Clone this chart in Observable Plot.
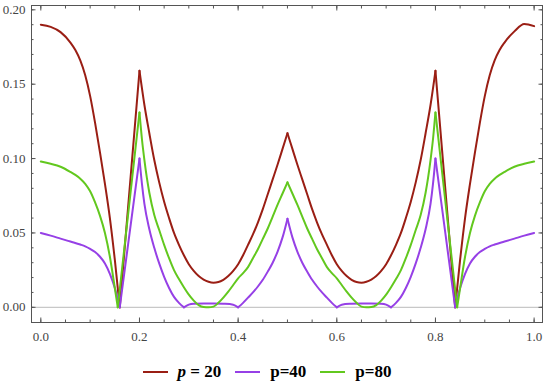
<!DOCTYPE html>
<html>
<head>
<meta charset="utf-8">
<script src="https://cdn.jsdelivr.net/npm/d3@7"></script>
<script src="https://cdn.jsdelivr.net/npm/@observablehq/plot@0.6"></script>
<style>
  body { margin: 0; background: #fff; width: 550px; height: 387px; overflow: hidden; }
  #legend { display: flex; justify-content: center; align-items: center; height: 42px; margin-top: 6px; padding-right: 16px;
            font-family: "Liberation Serif", serif; font-weight: bold; font-size: 17px; color: #000; }
  .item { display: flex; align-items: center; margin: 0 7px; }
  .sw { width: 25px; height: 2.5px; margin-right: 10px; }
</style>
</head>
<body>
<div id="chart"></div>
<div id="legend"></div>
<script>
// ---- data ----
const seriesNames = ["p = 20", "p=40", "p=80"];
const seriesColors = ["#9a1e14", "#9640e6", "#62c81e"];

const p20X = [0,0.02,0.04,0.06,0.07,0.08,0.09,0.10,0.11,0.12,0.13,0.14,0.15,0.16,
  0.20,0.21,0.22,0.23,0.24,0.25,0.26,0.27,0.28,0.29,0.30,0.31,0.32,0.33,0.34,0.35,0.36,0.37,0.38,0.39,0.40,
  0.41,0.42,0.43,0.44,0.45,0.46,0.47,0.48,0.49,0.50,
  0.51,0.52,0.53,0.54,0.55,0.56,0.57,0.58,0.59,0.60,0.61,0.62,0.63,0.64,0.65,0.66,0.67,0.68,0.69,0.70,
  0.71,0.72,0.73,0.74,0.75,0.76,0.77,0.78,0.79,0.80,
  0.84,0.85,0.86,0.87,0.88,0.89,0.90,0.91,0.92,0.93,0.94,0.96,0.98,1.00];
const p20Y = [0.190,0.1885,0.185,0.178,0.173,0.166,0.156,0.142,0.124,0.104,0.083,0.060,0.032,0.000,
  0.159,0.136,0.117,0.099,0.084,0.071,0.060,0.050,0.042,0.035,0.029,0.0245,0.021,0.0187,0.0172,0.0166,0.0170,0.0185,0.021,0.0245,0.029,
  0.035,0.042,0.049,0.057,0.066,0.076,0.086,0.096,0.1065,0.117,
  0.1065,0.096,0.086,0.076,0.066,0.057,0.049,0.042,0.035,0.029,0.0245,0.021,0.0185,0.0170,0.0166,0.0172,0.0187,0.021,0.0245,0.029,
  0.035,0.042,0.050,0.060,0.071,0.084,0.099,0.117,0.136,0.159,
  0.000,0.032,0.060,0.083,0.104,0.124,0.142,0.156,0.166,0.173,0.178,0.1855,0.1905,0.189];
const p20Cusps = [0.16, 0.20, 0.50, 0.80, 0.84];

const p40X = [0,0.02,0.04,0.06,0.08,0.09,0.10,0.11,0.12,0.13,0.14,0.15,0.16,
  0.20,0.205,0.21,0.22,0.23,0.24,0.25,0.26,0.27,0.28,0.29,0.30,0.31,0.33,0.35,0.37,0.39,0.40,
  0.41,0.42,0.43,0.44,0.45,0.46,0.47,0.48,0.49,0.50,
  0.51,0.52,0.53,0.54,0.55,0.56,0.57,0.58,0.59,0.60,0.61,0.63,0.65,0.67,0.69,0.70,
  0.71,0.72,0.73,0.74,0.75,0.76,0.77,0.78,0.79,0.795,0.80,
  0.84,0.85,0.86,0.87,0.88,0.89,0.90,0.91,0.92,0.94,0.96,0.98,1.00];
const p40Y = [0.050,0.0482,0.0462,0.0442,0.0422,0.041,0.0393,0.0372,0.034,0.0295,0.0225,0.013,0.000,
  0.100,0.083,0.0695,0.0525,0.040,0.0295,0.0205,0.013,0.007,0.003,0.000,0.0018,0.0024,0.0026,0.0026,0.0024,0.0018,0.000,
  0.003,0.0065,0.010,0.014,0.0185,0.024,0.030,0.0375,0.047,0.0595,
  0.047,0.0375,0.030,0.024,0.0185,0.014,0.010,0.0065,0.003,0.000,0.0018,0.0024,0.0026,0.0026,0.0024,0.0018,
  0.000,0.003,0.007,0.013,0.0205,0.0295,0.040,0.0525,0.0695,0.083,0.100,
  0.000,0.013,0.0225,0.0295,0.034,0.0372,0.0393,0.041,0.0422,0.0442,0.0462,0.0482,0.050];
const p40Cusps = [0.16, 0.20, 0.29, 0.40, 0.50, 0.60, 0.71, 0.80, 0.84];

const p80X = [0,0.02,0.04,0.06,0.07,0.08,0.09,0.10,0.11,0.12,0.13,0.14,0.15,0.156,
  0.20,0.205,0.21,0.215,0.22,0.23,0.24,0.25,0.26,0.27,0.28,0.29,0.30,0.31,0.32,0.33,0.34,0.35,0.36,0.37,0.38,0.39,0.40,
  0.41,0.42,0.43,0.44,0.45,0.46,0.47,0.48,0.49,0.50,
  0.51,0.52,0.53,0.54,0.55,0.56,0.57,0.58,0.59,0.60,0.61,0.62,0.63,0.64,0.65,0.66,0.67,0.68,0.69,0.70,
  0.71,0.72,0.73,0.74,0.75,0.76,0.77,0.78,0.785,0.79,0.795,0.80,
  0.844,0.85,0.86,0.87,0.88,0.89,0.90,0.91,0.92,0.93,0.94,0.96,0.98,1.00];
const p80Y = [0.098,0.0965,0.0945,0.091,0.089,0.0865,0.083,0.078,0.0705,0.0615,0.050,0.034,0.013,0.000,
  0.131,0.113,0.099,0.087,0.077,0.062,0.052,0.042,0.033,0.025,0.019,0.0135,0.0085,0.0045,0.0015,0.0002,0.000,0.0005,0.003,0.0065,0.0105,0.015,0.0195,
  0.023,0.027,0.033,0.039,0.046,0.053,0.061,0.069,0.0765,0.084,
  0.0765,0.069,0.061,0.053,0.046,0.039,0.033,0.027,0.023,0.0195,0.015,0.0105,0.0065,0.003,0.0005,0.000,0.0002,0.0015,0.0045,0.0085,
  0.0135,0.019,0.025,0.033,0.042,0.052,0.062,0.077,0.087,0.099,0.113,0.131,
  0.000,0.013,0.034,0.050,0.0615,0.0705,0.078,0.083,0.0865,0.089,0.091,0.0945,0.0965,0.098];
const p80Cusps = [0.156, 0.20, 0.50, 0.80, 0.844];

const xTicks = [0, 0.2, 0.4, 0.6, 0.8, 1.0];
const yTicks = [0, 0.05, 0.10, 0.15, 0.20];
const xMinor = d3.range(0, 1.0001, 0.05);
const yMinor = d3.range(0, 0.2001, 0.01);

// ---- build: split each curve at its cusps so smoothing keeps them sharp ----
const xs = [p20X, p40X, p80X], ys = [p20Y, p40Y, p80Y], cusps = [p20Cusps, p40Cusps, p80Cusps];
const rows = [];
seriesNames.forEach((s, k) => {
  let seg = 0;
  xs[k].forEach((x, i) => {
    const y = ys[k][i];
    rows.push({series: s, seg: s + "-" + seg, x, y});
    if (cusps[k].some(c => Math.abs(c - x) < 1e-9)) {
      seg++;
      rows.push({series: s, seg: s + "-" + seg, x, y});
    }
  });
});

const T = 4.5, t = 2.5;
const chart = Plot.plot({
  width: 550,
  height: 345,
  marginLeft: 31,
  marginRight: 8,
  marginTop: 5,
  marginBottom: 23,
  x: {domain: [-0.0189, 1.017]},
  y: {domain: [-0.0102, 0.2029]},
  style: "font-family: 'Liberation Serif', serif; font-size: 13px; color: #555;",
  marks: [
    Plot.ruleY([0], {stroke: "#c8c8c8", strokeWidth: 1.2}),
    ...seriesNames.map((s, k) => Plot.line(rows.filter(d => d.series === s), {
      x: "x", y: "y", z: "seg", stroke: seriesColors[k], strokeWidth: 2, curve: "monotone-x"
    })),
    Plot.frame(),
    // labels
    Plot.axisX({anchor: "bottom", ticks: xTicks, tickSize: 0, tickPadding: 9, tickFormat: d3.format(".1f"), label: null, fill: "#444"}),
    Plot.axisY({anchor: "left", ticks: yTicks, tickSize: 0, tickPadding: 6, tickFormat: d3.format(".2f"), label: null, fill: "#444"}),
    // major ticks, pointing inward, on four sides
    Plot.axisX({anchor: "bottom", ticks: xTicks, tickSize: T, dy: -T, text: null, label: null}),
    Plot.axisX({anchor: "top", ticks: xTicks, tickSize: T, dy: T, text: null, label: null}),
    Plot.axisY({anchor: "left", ticks: yTicks, tickSize: T, dx: T, text: null, label: null}),
    Plot.axisY({anchor: "right", ticks: yTicks, tickSize: T, dx: -T, text: null, label: null}),
    // minor ticks
    Plot.axisX({anchor: "bottom", ticks: xMinor, tickSize: t, dy: -t, text: null, label: null}),
    Plot.axisX({anchor: "top", ticks: xMinor, tickSize: t, dy: t, text: null, label: null}),
    Plot.axisY({anchor: "left", ticks: yMinor, tickSize: t, dx: t, text: null, label: null}),
    Plot.axisY({anchor: "right", ticks: yMinor, tickSize: t, dx: -t, text: null, label: null})
  ]
});
document.getElementById("chart").appendChild(chart);

// legend
const legend = document.getElementById("legend");
seriesNames.forEach((s, k) => {
  const item = document.createElement("div");
  item.className = "item";
  const sw = document.createElement("span");
  sw.className = "sw";
  sw.style.background = seriesColors[k];
  const lab = document.createElement("span");
  if (k === 0) lab.innerHTML = "<i>p</i> = 20"; else lab.textContent = s;
  item.appendChild(sw); item.appendChild(lab);
  legend.appendChild(item);
});
</script>
</body>
</html>
